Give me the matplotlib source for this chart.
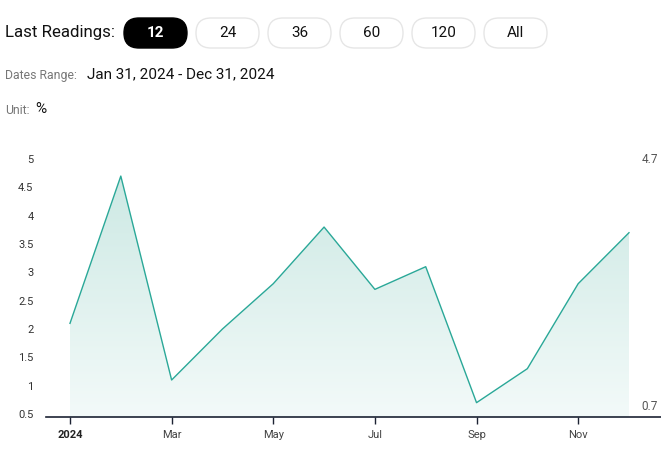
import numpy as np
import matplotlib.pyplot as plt
from matplotlib.patches import FancyBboxPatch
from matplotlib.colors import LinearSegmentedColormap

plt.rcParams['font.family'] = ['Roboto', 'DejaVu Sans']

# Monthly readings, Jan-Dec 2024 (%)
months = ['Jan', 'Feb', 'Mar', 'Apr', 'May', 'Jun',
          'Jul', 'Aug', 'Sep', 'Oct', 'Nov', 'Dec']
values = [2.1, 4.7, 1.1, 2.0, 2.8, 3.8, 2.7, 3.1, 0.7, 1.3, 2.8, 3.7]
tick_labels = ['2024', 'Mar', 'May', 'Jul', 'Sep', 'Nov']
ytick_values = [0.5, 1, 1.5, 2, 2.5, 3, 3.5, 4, 4.5, 5]
buttons = ['12', '24', '36', '60', '120', 'All']

line_color = '#2aa898'

W, H = 661, 470
fig = plt.figure(figsize=(W / 100, H / 100), dpi=100)

# header drawn on a pixel-coordinate overlay
hdr = fig.add_axes([0, 0, 1, 1])
hdr.set_xlim(0, W)
hdr.set_ylim(H, 0)
hdr.axis('off')

hdr.text(5, 33, 'Last Readings:', fontsize=12.2, va='center', color='#111111')
for i, b in enumerate(buttons):
    left = 124 + i * 72
    active = i == 0
    pill = FancyBboxPatch((left, 18), 63, 30,
                          boxstyle='round,pad=0,rounding_size=15',
                          facecolor='black' if active else 'white',
                          edgecolor='black' if active else '#e6e6e6', linewidth=1)
    hdr.add_patch(pill)
    hdr.text(left + 31.5, 33, b, fontsize=11, ha='center', va='center',
             color='white' if active else '#111111',
             fontweight='bold' if active else 'normal')

hdr.text(5, 75, 'Dates Range:', fontsize=8.8, va='center', color='#777777')
hdr.text(87, 74, 'Jan 31, 2024 - Dec 31, 2024', fontsize=11, va='center', color='#111111')
hdr.text(5, 110, 'Unit:', fontsize=8.8, va='center', color='#777777')
hdr.text(35, 109, '%', fontsize=11, va='center', color='#111111')

# chart area
ax = fig.add_axes([46 / W, (H - 417) / H, (W - 46) / W, (417 - 150) / H])
x = np.arange(len(values))
ybot = 0.447
ax.set_xlim(-0.472, 11.63)
ax.set_ylim(ybot, 5.16)

ax.plot(x, values, color=line_color, linewidth=1.0, zorder=3)
poly = ax.fill_between(x, values, ybot, facecolor='none', edgecolor='none')

cmap = LinearSegmentedColormap.from_list('fade', ['#f3faf9', '#cde9e4'])
grad = np.linspace(0, 1, 256).reshape(-1, 1)
img = ax.imshow(grad, extent=[0, 11, ybot, max(values)], origin='lower',
                cmap=cmap, aspect='auto', zorder=1)
img.set_clip_path(poly.get_paths()[0], transform=ax.transData)

for side in ['top', 'right', 'left']:
    ax.spines[side].set_visible(False)
ax.spines['bottom'].set_color('#1c2333')
ax.spines['bottom'].set_linewidth(1.2)

ax.set_yticks(ytick_values)
ax.set_yticklabels([f'{v:g}' for v in ytick_values])
ax.tick_params(axis='y', length=0, pad=9, labelsize=8, labelcolor='#333333')
ax.set_xticks(x[::2])
ax.set_xticklabels(tick_labels)
ax.tick_params(axis='x', length=5, width=1, color='#1c2333', pad=4,
               labelsize=8, labelcolor='#444444')
ax.get_xticklabels()[0].set_fontweight('bold')
ax.get_xticklabels()[0].set_color('#222222')

# max / min annotations on the right
ax.text(0.995, 5.0, f'{max(values):g}', transform=ax.get_yaxis_transform(),
        ha='right', va='center', fontsize=8.5, color='#555555')
ax.text(0.995, 0.64, f'{min(values):g}', transform=ax.get_yaxis_transform(),
        ha='right', va='center', fontsize=8.5, color='#555555')

fig.savefig('out.png', dpi=100)
